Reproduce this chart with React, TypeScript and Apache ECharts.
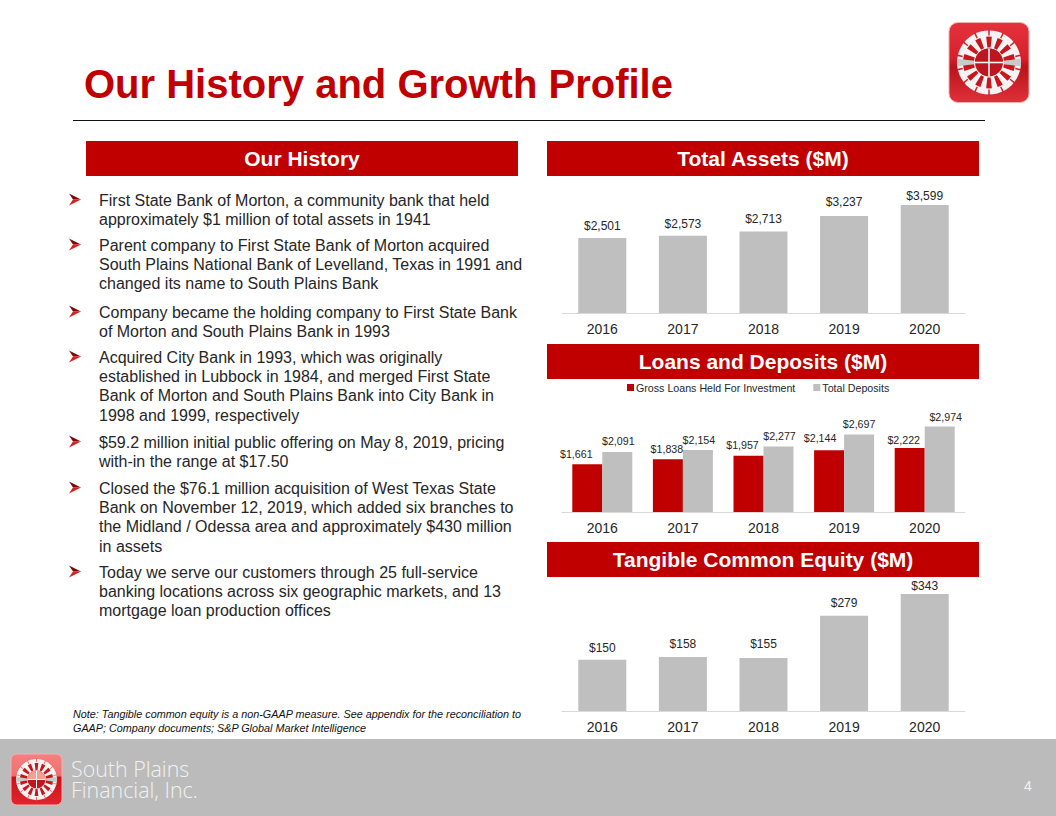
import React, { useEffect, useRef } from "react";
import * as echarts from "echarts";

const years = ["2016", "2017", "2018", "2019", "2020"];
const totalAssets = [2501, 2573, 2713, 3237, 3599];
const grossLoans = [1661, 1838, 1957, 2144, 2222];
const totalDeposits = [2091, 2154, 2277, 2697, 2974];
const tangibleEquity = [150, 158, 155, 279, 343];

const assetsNudge = [[0, -1], [0, -1], [0, -2], [0, -3], [0, 2]];
const loansNudge = [[-11, 0], [-1, 0], [-6, 0], [-9, -2], [-6, 2]];
const depositsNudge = [[1, 0], [1, 0], [1, 0], [0, 0], [6, 1]];
const equityNudge = [[0, -1], [0, -2], [0, -3], [0, -2], [0, 3]];

const bullets = [
  ["First State Bank of Morton, a community bank that held", "approximately $1 million of total assets in 1941"],
  ["Parent company to First State Bank of Morton acquired", "South Plains National Bank of Levelland, Texas in 1991 and", "changed its name to South Plains Bank"],
  ["Company became the holding company to First State Bank", "of Morton and South Plains Bank in 1993"],
  ["Acquired City Bank in 1993, which was originally", "established in Lubbock in 1984, and merged First State", "Bank of Morton and South Plains Bank into City Bank in", "1998 and 1999, respectively"],
  ["$59.2 million initial public offering on May 8, 2019, pricing", "with-in the range at $17.50"],
  ["Closed the $76.1 million acquisition of West Texas State", "Bank on November 12, 2019, which added six branches to", "the Midland / Odessa area and approximately $430 million", "in assets"],
  ["Today we serve our customers through 25 full-service", "banking locations across six geographic markets, and 13", "mortgage loan production offices"],
];
const bulletTops = [200, 245, 312, 357, 442, 488, 572];

const noteLines = [
  "Note: Tangible common equity is a non-GAAP measure. See appendix for the reconciliation to",
  "GAAP; Company documents; S&P Global Market Intelligence",
];

const headers = [
  { text: "Our History", x: 86, y: 141 },
  { text: "Total Assets ($M)", x: 547, y: 141 },
  { text: "Loans and Deposits ($M)", x: 547, y: 344 },
  { text: "Tangible Common Equity ($M)", x: 547, y: 542 },
];

const RED = "#C00000";
const GRAY = "#BFBFBF";
const INK = "#262626";
const SANS = "'Liberation Sans', Arial, sans-serif";

function logo(x: number, y: number, s: number, stops: [number, string][], rimColor: string, hubTop: string) {
  const cx = x + s / 2;
  const cy = y + s / 2;
  const k = s / 80;
  const els: any[] = [
    {
      type: "rect",
      shape: { x, y, width: s, height: s, r: 9 * k },
      style: {
        fill: new echarts.graphic.LinearGradient(0, 0, 0, 1, stops.map(([offset, color]) => ({ offset, color }))),
        stroke: rimColor,
        lineWidth: 1,
      },
    },
    { type: "circle", shape: { cx, cy, r: 32 * k }, style: { fill: "#F4F4F4" } },
    { type: "sector", shape: { cx, cy, r0: 15 * k, r: 32 * k, startAngle: -0.12, endAngle: 0.12 }, style: { fill: "#C9C9C9" } },
    { type: "sector", shape: { cx, cy, r0: 15 * k, r: 32 * k, startAngle: Math.PI - 0.12, endAngle: Math.PI + 0.12 }, style: { fill: "#C9C9C9" } },
  ];
  const n = 14;
  for (let i = 0; i < n; i++) {
    const a = (i * 2 * Math.PI) / n + Math.PI / n;
    els.push({
      type: "sector",
      shape: { cx, cy, r0: 15 * k, r: 26 * k, startAngle: a - 0.11, endAngle: a + 0.11 },
      style: { fill: "#C8161D" },
    });
    els.push({
      type: "sector",
      shape: { cx, cy, r0: 27 * k, r: 33 * k, startAngle: a - 0.025, endAngle: a + 0.025 },
      style: { fill: stops[1][1] },
    });
  }
  els.push({ type: "circle", shape: { cx, cy, r: 14 * k }, style: { fill: "#BE1620" } });
  els.push({ type: "sector", shape: { cx, cy, r: 14 * k, r0: 0, startAngle: Math.PI, endAngle: 2 * Math.PI }, style: { fill: hubTop } });
  els.push({ type: "rect", shape: { x: cx - 14 * k, y: cy - 0.8 * k, width: 28 * k, height: 1.6 * k }, style: { fill: "#F4F4F4" } });
  els.push({ type: "rect", shape: { x: cx - 0.8 * k, y: cy - 14 * k, width: 1.6 * k, height: 28 * k }, style: { fill: "#F4F4F4" } });
  return els;
}

function txt(text: string, x: number, y: number, size: number, fill: string, extra: any = {}) {
  return {
    type: "text",
    style: { text, x, y, fontSize: size, fontFamily: SANS, fill, verticalAlign: "middle", align: "left", ...extra },
  };
}

function arrow(top: number) {
  const c = top;
  return [
    { type: "polygon", shape: { points: [[69, c - 6.5], [81, c - 0.5], [73, c - 0.5]] }, style: { fill: "#7A0A0A" } },
    { type: "polygon", shape: { points: [[69, c + 5.5], [81, c - 0.5], [73, c - 0.5]] }, style: { fill: "#D81E1E" } },
  ];
}

function labelled(values: number[], nudges: number[][], color: string, size: number) {
  return values.map((value, i) => ({
    value,
    itemStyle: { color },
    label: {
      show: true,
      position: "top",
      distance: 5,
      offset: nudges[i],
      formatter: "$" + value.toLocaleString("en-US"),
      fontSize: size,
      fontFamily: SANS,
      color: INK,
    },
  }));
}

export default function App() {
  const ref = useRef<HTMLDivElement>(null);
  useEffect(() => {
    document.body.style.margin = "0";
    const chart = echarts.init(ref.current!, undefined, { renderer: "svg" });

    const graphic: any[] = [
      { type: "rect", shape: { x: 0, y: 739, width: 1056, height: 77 }, style: { fill: "#BBBBBB" } },
      txt("Our History and Growth Profile", 84, 84, 40, RED, { fontWeight: "bold" }),
      { type: "line", shape: { x1: 73, y1: 120.5, x2: 985, y2: 120.5 }, style: { stroke: "#111111", lineWidth: 1 } },
      ...logo(949, 22.5, 80, [[0, "#E4333C"], [0.45, "#D6202B"], [0.55, "#B8141C"], [1, "#E0303A"]], "#F2B0B0", "#BE1620"),
      ...logo(11, 754, 51, [[0, "#F57F7F"], [0.42, "#F07070"], [0.46, "#CC1018"], [1, "#E0262E"]], "#F5B0B0", "#F3A08E"),
      txt("South Plains\nFinancial, Inc.", 71, 779, 21.4, "#F2F2F2", { fontFamily: "'Open Sans'", fontWeight: 300, lineHeight: 21 }),
      txt("4", 1024, 786, 14, "#F2F2F2"),
    ];
    headers.forEach((h) => {
      graphic.push({ type: "rect", shape: { x: h.x, y: h.y, width: 432, height: 35 }, style: { fill: RED } });
      graphic.push(txt(h.text, h.x + 216, h.y + 17.5, 21, "#FFFFFF", { fontWeight: "bold", align: "center" }));
    });
    bullets.forEach((lines, b) => {
      const top = bulletTops[b];
      graphic.push(...arrow(top));
      lines.forEach((line, i) => {
        graphic.push(txt(line, 99, top + Math.round(i * 19.2), 16, INK));
      });
    });
    noteLines.forEach((line, i) => {
      graphic.push(txt(line, 73, 714 + i * 13.5, 10.8, "#111111", { fontStyle: "italic" }));
    });

    const xBase = {
      type: "category",
      data: years,
      axisLine: { lineStyle: { color: "#D9D9D9", width: 1 } },
      axisTick: { show: false },
      axisLabel: { fontSize: 14, fontFamily: SANS, color: INK, margin: 9 },
    };
    const yBase = { type: "value", min: 0, show: false, splitLine: { show: false } };

    chart.setOption({
      animation: false,
      backgroundColor: "#FFFFFF",
      graphic,
      legend: {
        left: 622,
        top: 377,
        icon: "rect",
        itemWidth: 7,
        itemHeight: 7,
        itemGap: 18,
        textStyle: { fontSize: 10.67, fontFamily: SANS, color: INK, padding: [0, 0, 0, -3] },
        data: [
          { name: "Gross Loans Held For Investment", itemStyle: { color: RED } },
          { name: "Total Deposits", itemStyle: { color: GRAY } },
        ],
      },
      grid: [
        { left: 562, width: 403, top: 193, height: 120 },
        { left: 562, width: 403, top: 397, height: 115 },
        { left: 562, width: 403, top: 574.5, height: 136.5 },
      ],
      xAxis: [0, 1, 2].map((gridIndex) => ({ ...xBase, gridIndex })),
      yAxis: [
        { ...yBase, gridIndex: 0, max: 4000 },
        { ...yBase, gridIndex: 1, max: 4000 },
        { ...yBase, gridIndex: 2, max: 400 },
      ],
      series: [
        { name: "Total Assets", type: "bar", xAxisIndex: 0, yAxisIndex: 0, barWidth: 48, data: labelled(totalAssets, assetsNudge, GRAY, 12) },
        { name: "Gross Loans Held For Investment", type: "bar", xAxisIndex: 1, yAxisIndex: 1, barWidth: 30, barGap: "0%", itemStyle: { color: RED }, data: labelled(grossLoans, loansNudge, RED, 10.67) },
        { name: "Total Deposits", type: "bar", xAxisIndex: 1, yAxisIndex: 1, barWidth: 30, barGap: "0%", itemStyle: { color: GRAY }, data: labelled(totalDeposits, depositsNudge, GRAY, 10.67) },
        { name: "Tangible Common Equity", type: "bar", xAxisIndex: 2, yAxisIndex: 2, barWidth: 48, data: labelled(tangibleEquity, equityNudge, GRAY, 12) },
      ],
    });
    return () => chart.dispose();
  }, []);
  return <div ref={ref} style={{ position: "absolute", left: 0, top: 0, width: 1056, height: 816 }} />;
}
